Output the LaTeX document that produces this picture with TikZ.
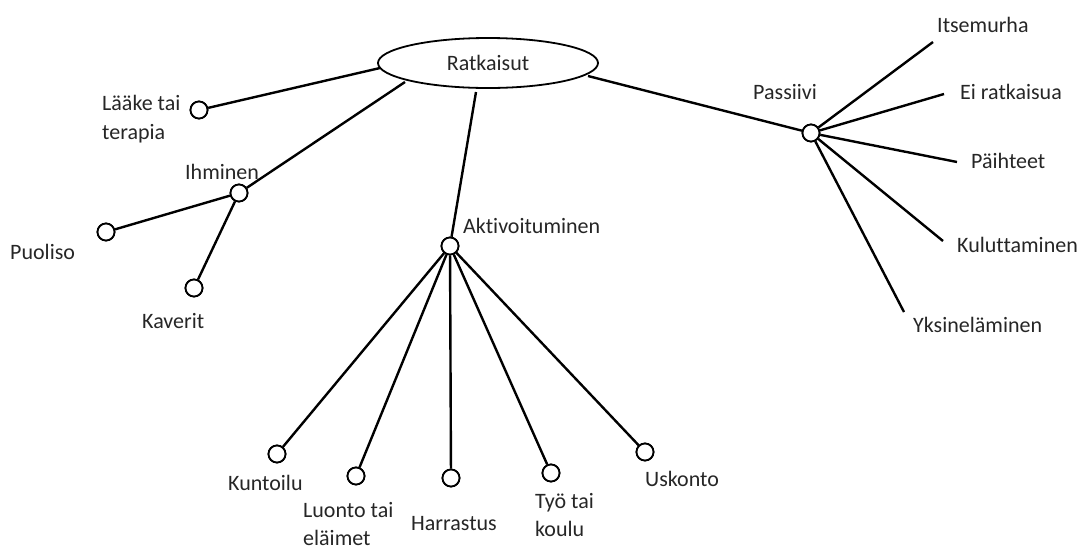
\documentclass[tikz,border=0pt]{standalone}
\usepackage{fontspec}
\setmainfont{Carlito}[Ligatures={NoCommon}]
\usetikzlibrary{shapes.geometric}
\begin{document}
\begin{tikzpicture}[x=1pt,y=-1pt,
  dot/.style={circle,draw,line width=1.8pt,fill=white,minimum size=17pt,inner sep=0pt},
  lbl/.style={font=\fontsize{22}{28.5}\selectfont,inner sep=0pt,align=left,text=black!85,anchor=west},
  edge/.style={line width=2.4pt}]
\useasboundingbox (0,0) rectangle (1080,550);

% root
\node[ellipse,draw,line width=1.8pt,minimum width=220pt,minimum height=50pt,inner sep=0pt,
      font=\fontsize{22}{26}\selectfont,text=black!85] (ell) at (488,63) {Ratkaisut};
\coordinate (eL) at (380,68);
\coordinate (eI) at (405,82);
\coordinate (eA) at (476,92);
\coordinate (eP) at (588,76);

% nodes
\node[dot] (laake) at (199,110) {};
\node[dot] (ihm) at (239,193) {};
\node[dot] (puol) at (106,232) {};
\node[dot] (kav) at (194,288) {};
\node[dot] (akt) at (450,246) {};
\node[dot] (kunt) at (277,454) {};
\node[dot] (luon) at (356,476) {};
\node[dot] (harr) at (451,478) {};
\node[dot] (tyo) at (551,473) {};
\node[dot] (usk) at (645,452) {};
\node[dot] (pass) at (811,133) {};

% free ends of Passiivi branches
\coordinate (pItse) at (933,42);
\coordinate (pEi) at (944,94);
\coordinate (pPai) at (957,162);
\coordinate (pKul) at (943,241);
\coordinate (pYks) at (904,312);

% edges
\draw[edge] (eL) -- (laake);
\draw[edge] (eI) -- (ihm);
\draw[edge] (ihm) -- (puol);
\draw[edge] (ihm) -- (kav);
\draw[edge] (eA) -- (akt);
\draw[edge] (akt) -- (kunt);
\draw[edge] (akt) -- (luon);
\draw[edge] (akt) -- (harr);
\draw[edge] (akt) -- (tyo);
\draw[edge] (akt) -- (usk);
\draw[edge] (eP) -- (pass);
\draw[edge] (pass) -- (pItse);
\draw[edge] (pass) -- (pEi);
\draw[edge] (pass) -- (pPai);
\draw[edge] (pass) -- (pKul);
\draw[edge] (pass) -- (pYks);

% redraw dots on top
\foreach \n in {laake,ihm,puol,kav,akt,kunt,luon,harr,tyo,usk,pass}
  \node[dot] at (\n) {};

% labels
\node[lbl] (tLaake) at (102,119) {Lääke tai\\terapia};
\node[lbl] (tIhm) at (185,172) {Ihminen};
\node[lbl] (tPuol) at (10,252) {Puoliso};
\node[lbl] (tKav) at (142,321) {Kaverit};
\node[lbl] (tAkt) at (463,226) {Aktivoituminen};
\node[lbl] (tKunt) at (228,483) {Kuntoilu};
\node[lbl] (tLuon) at (303,524) {Luonto tai\\eläimet};
\node[lbl] (tHarr) at (411,524) {Harrastus};
\node[lbl] (tTyo) at (535,515) {Työ tai\\koulu};
\node[lbl] (tUsk) at (645,479) {Uskonto};
\node[lbl] (tPass) at (753,92) {Passiivi};
\node[lbl] (tItse) at (937,25) {Itsemurha};
\node[lbl] (tEi) at (960,92) {Ei ratkaisua};
\node[lbl] (tPai) at (971,161) {Päihteet};
\node[lbl] (tKul) at (957,245) {Kuluttaminen};
\node[lbl] (tYks) at (913,325) {Yksineläminen};
\end{tikzpicture}
\end{document}
